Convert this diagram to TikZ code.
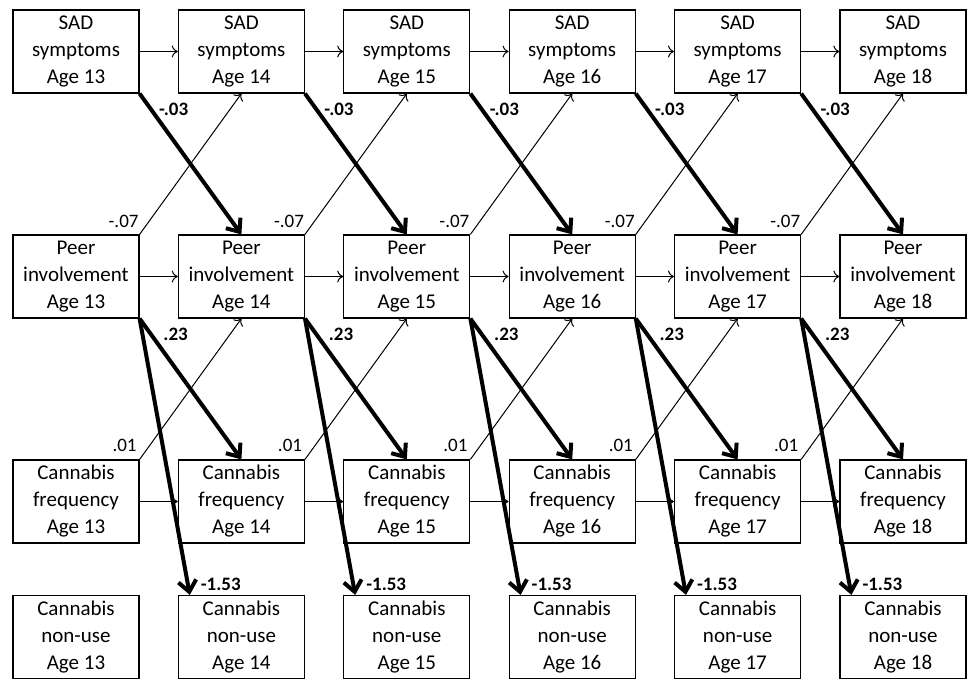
\documentclass[tikz,border=0pt]{standalone}
\usepackage{fontspec}
\setmainfont{Carlito}
\usetikzlibrary{arrows.meta}

\tikzset{
    box/.style={draw, line width=0.6pt, minimum width=63pt, minimum height=41.5pt,
        inner sep=0pt, align=center, font=\fontsize{10.5}{13.5}\selectfont},
    lightarrow/.style={line width=0.5pt, -{To[length=3pt, width=6pt]}},
    heavyarrow/.style={line width=2pt, -{Straight Barb[length=5.5pt, width=9pt]}},
    coef/.style={inner sep=0pt, font=\fontsize{9.5}{10}\selectfont},
}

\begin{document}
\begin{tikzpicture}[x=0.5pt, y=-0.5pt]
    \useasboundingbox (0,0) rectangle (968,680);

    % boxes, one column per age
    \foreach \a [count=\i from 0] in {13,...,18} {
        \node[box] (sad\a) at (76+165.4*\i, 51.5) {SAD\\symptoms\\Age \a};
        \node[box] (peer\a) at (76+165.4*\i, 276.5) {Peer\\involvement\\Age \a};
        \node[box] (freq\a) at (76+165.4*\i, 501.5) {Cannabis\\frequency\\Age \a};
        \node[box] (nonuse\a) at (76+165.4*\i, 637) {Cannabis\\non-use\\Age \a};
    }

    % paths from one age to the next
    \foreach \a [evaluate=\a as \b using int(\a+1)] in {13,...,17} {
        \draw[lightarrow] (sad\a) -- (sad\b);
        \draw[lightarrow] (peer\a) -- (peer\b);
        \draw[lightarrow] (freq\a) -- (freq\b);

        \draw[lightarrow] (peer\a.north east) -- (sad\b.south);
        \draw[lightarrow] (freq\a.north east) -- (peer\b.south);
        \node[coef] (pslab\a) at ([shift={(-16,-13)}]peer\a.north east) {-.07};
        \node[coef] (fplab\a) at ([shift={(-15,-14)}]freq\a.north east) {.01};

        \draw[heavyarrow] (sad\a.south east) -- (peer\b.north);
        \draw[heavyarrow] (peer\a.south east) -- (freq\b.north);
        \coordinate (nu\b) at ([xshift=6pt]nonuse\b.north west);
        \draw[heavyarrow] (peer\a.south east) -- (nu\b);
        \node[coef] (splab\a) at ([shift={(34,16)}]sad\a.south east) {\textbf{-.03}};
        \node[coef] (pflab\a) at ([shift={(36,16)}]peer\a.south east) {\textbf{.23}};
        \node[coef] (pnlab\a) at ([shift={(31,-11)}]nu\b) {\textbf{-1.53}};
    }
\end{tikzpicture}
\end{document}
